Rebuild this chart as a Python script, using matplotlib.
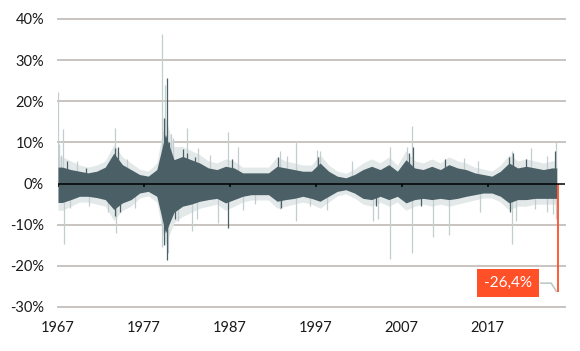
import numpy as np
import matplotlib
matplotlib.use("Agg")
import matplotlib.pyplot as plt

# yearly envelope of the daily changes (%), 1967..2024
years = list(range(1967, 2025))
# dark band
core_up = [4.0, 3.4, 3.0, 2.6, 3.0, 4.0, 7.4, 4.6, 3.4, 2.2,
           1.8, 3.4, 12.0, 5.8, 6.6, 5.8, 5.0, 3.8, 3.4, 4.2,
           3.8, 2.6, 2.6, 2.6, 2.6, 4.2, 3.8, 3.4, 3.0, 3.0,
           5.0, 3.0, 1.8, 1.4, 2.2, 3.4, 4.2, 3.4, 4.6, 3.0,
           5.8, 3.8, 3.4, 4.2, 3.4, 4.6, 3.8, 3.4, 2.6, 2.2,
           1.8, 3.0, 5.0, 3.8, 4.2, 3.8, 3.4, 3.8]
core_dn = [-4.6, -3.9, -3.1, -3.1, -3.4, -3.9, -6.3, -4.7, -3.9, -2.3,
           -1.9, -3.1, -12.0, -7.0, -5.5, -5.0, -4.3, -3.9, -3.6, -4.7,
           -3.9, -3.1, -2.7, -2.7, -2.7, -4.3, -3.9, -3.6, -3.1, -3.6,
           -4.3, -3.1, -1.9, -1.5, -2.3, -3.6, -3.9, -3.1, -3.9, -3.1,
           -4.7, -3.9, -3.6, -3.9, -3.6, -3.9, -3.6, -3.1, -2.7, -2.3,
           -2.3, -3.1, -4.7, -3.9, -3.9, -3.6, -3.6, -3.6]
# faint grey halo
light_up = [6.5, 5.5, 4.5, 4.0, 4.5, 5.5, 9.5, 6.5, 5.0, 3.5,
            3.0, 5.0, 16.0, 9.0, 9.0, 8.0, 7.0, 5.5, 5.0, 6.0,
            5.5, 4.0, 4.0, 4.0, 4.0, 6.5, 5.5, 5.0, 4.5, 4.5,
            7.0, 4.5, 3.0, 2.5, 3.5, 5.0, 6.0, 5.0, 6.5, 4.5,
            8.0, 5.5, 5.0, 6.0, 5.0, 6.5, 5.5, 5.0, 4.0, 3.5,
            3.0, 4.5, 7.0, 5.5, 6.0, 5.5, 5.0, 5.5]
light_dn = [-6.5, -5.5, -4.5, -4.5, -5.0, -5.5, -9.0, -6.5, -5.5, -3.5,
            -3.0, -4.5, -15.0, -9.5, -8.0, -7.0, -6.0, -5.5, -5.0, -6.5,
            -5.5, -4.5, -4.0, -4.0, -4.0, -6.0, -5.5, -5.0, -4.5, -5.0,
            -6.0, -4.5, -3.0, -2.5, -3.5, -5.0, -5.5, -4.5, -5.5, -4.5,
            -6.5, -5.5, -5.0, -5.5, -5.0, -5.5, -5.0, -4.5, -4.0, -3.5,
            -3.5, -4.5, -6.5, -5.5, -5.5, -5.0, -5.0, -5.0]

# single large days (light grey) and dark ones
spike_x = [1967.03, 1967.15, 1967.3, 1967.6, 1967.7, 1968.4, 1969.2, 1970.6,
           1972.8, 1973.6, 1973.7, 1975.0, 1976.0, 1979.14, 1979.14, 1979.45,
           1979.8, 1980.1, 1980.4, 1981.0, 1982.0, 1982.6, 1983.3, 1983.2,
           1984.7, 1985.6, 1986.8, 1988.0, 1988.5, 1989.9, 1992.8, 1992.8,
           1993.6, 1994.7, 1994.7, 1996.3, 1997.2, 1997.5, 1998.3, 2001.2,
           2003.7, 2004.3, 2005.65, 2005.65, 2007.6, 2008.2, 2008.2, 2010.6,
           2012.5, 2014.2, 2015.9, 2016.1, 2019.8, 2019.8, 2020.3, 2022.1,
           2022.5, 2023.9, 2023.9, 2024.6, 2025.0, 2025.0]
spike_y = [22.3, 9.5, 7.0, 13.3, -14.8, -6.0, 5.5, -5.5,
           -6.8, 13.5, -12.0, 6.0, -6.0, 36.4, -15.3, 24.0,
           -17.0, 12.0, 11.0, -9.0, 13.6, -11.6, 8.7, -8.5,
           7.0, -9.5, 12.6, 9.0, -6.5, -5.0, 7.8, -6.3,
           6.6, 10.2, -9.0, -5.5, 8.2, 8.0, -6.5, 5.4,
           -9.2, -8.7, 9.0, -18.4, 9.0, 14.0, -16.8, -13.0,
           -12.4, 6.3, 5.4, -7.0, 7.8, -14.8, -9.0, 8.7,
           -6.3, 6.6, -7.0, -7.4, 10.2, -8.7]
dark_x = [1973.6, 1973.65, 1979.3, 1979.65, 1979.65, 1979.35, 1979.9,
          1986.8, 1982.0, 2008.3, 2019.9, 2024.9,
          1968.0, 1970.3, 1974.0, 1981.5, 1983.0, 1987.2, 1992.6, 1997.3,
          2007.8, 2012.0, 2019.5, 2021.5, 1974.2, 1980.6, 1992.9, 2004.0,
          2009.3, 2019.6]
dark_y = [8.7, -8.0, 16.0, 25.7, -18.5, -15.0, 10.0,
          -10.7, 7.5, 9.0, 7.5, 7.8,
          5.5, 3.8, 9.0, 8.5, 6.5, 6.0, 6.5, 6.5,
          7.5, 6.0, 6.5, 6.0, -7.0, -8.5, -6.0, -5.5,
          -5.5, -7.0]

last_x = 2025.15
last_val = -26.4
last_label = "-26,4%"

tick_years = [1967, 1977, 1987, 1997, 2007, 2017]
y_ticks = [-30, -20, -10, 0, 10, 20, 30, 40]

dark = "#4a6066"
halo = "#e3e8e9"
light = "#c2cdcf"
red = "#ff5028"
grid = "#c9c4bf"

plt.rcParams['font.family'] = ['Lato', 'DejaVu Sans']

fig = plt.figure(figsize=(5.8, 3.51), dpi=100)
ax = fig.add_axes([0.1, 0.1254, 0.874, 0.8205])

xm = np.array(years) + 0.5


def ends(vals):
    return np.concatenate([[vals[0]], vals, [vals[-1]]])


xe = np.concatenate([[1967.0], xm, [last_x - 0.1]])

for v in y_ticks:
    if v != 0:
        ax.axhline(v, color=grid, lw=1.4, zorder=0, clip_on=False)

ax.fill_between(xe, ends(light_dn), ends(light_up), color=halo, lw=0, zorder=1)
ax.vlines(spike_x, 0, spike_y, color=light, lw=0.9, zorder=1)
ax.fill_between(xe, ends(core_dn), ends(core_up), color=dark, lw=0, zorder=2)
ax.vlines(dark_x, 0, dark_y, color=dark, lw=0.9, zorder=2)

ax.vlines(last_x, 0, last_val, color=red, lw=1.3, zorder=4)

ax.axhline(0, color="black", lw=1.1, zorder=5)
ax.vlines(tick_years, -0.9, 0, color="black", lw=1.1, zorder=5)

# label box with connector
lx, ly = 2019.4, -24.2
ax.plot([lx + 3.8, lx + 5.0, last_x - 0.15], [ly, ly, last_val + 0.2],
        color="#b9c5c7", lw=1.1, zorder=3)
ax.text(lx, ly, last_label, color="white", fontsize=11, ha="center", va="center",
        zorder=6, bbox=dict(boxstyle="square,pad=0.45", fc=red, ec="none"))

ax.set_xlim(1967, 2026)
ax.set_ylim(-30, 40)
ax.set_xticks(tick_years)
ax.set_xticklabels([str(t) for t in tick_years])
ax.set_yticks(y_ticks)
ax.set_yticklabels([f"{v}%" for v in y_ticks])
ax.tick_params(axis="both", length=0, labelsize=10.5, colors="#1a1a1a")
ax.tick_params(axis="x", pad=10)
ax.tick_params(axis="y", pad=10)
for s in ax.spines.values():
    s.set_visible(False)

fig.savefig("out.png", dpi=100)
